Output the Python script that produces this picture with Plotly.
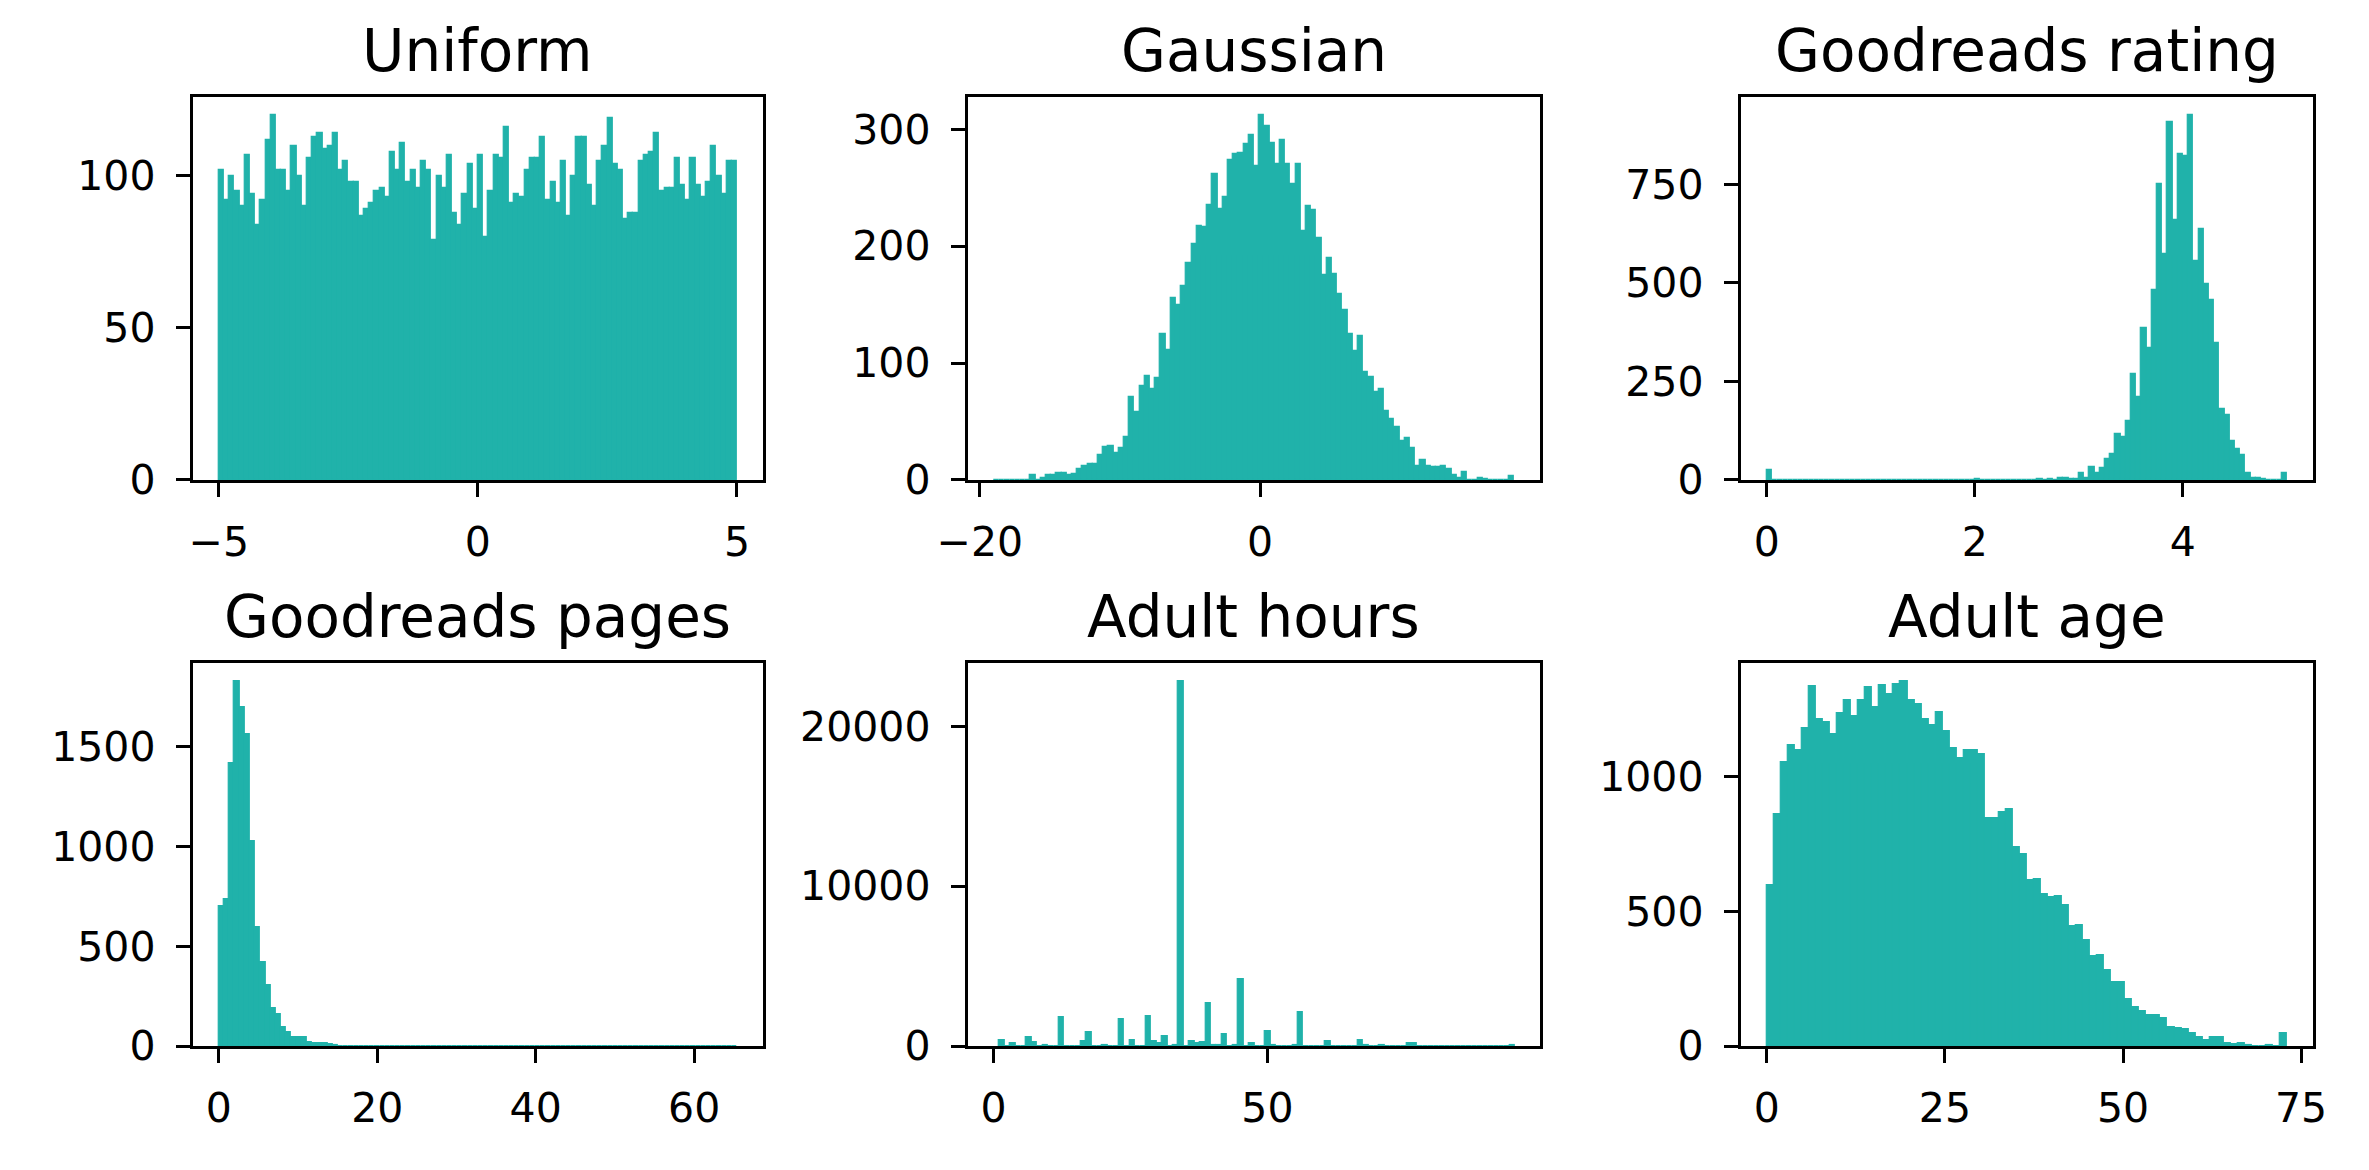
import numpy as np
import plotly.graph_objects as go

# ---- data (bin counts, left to right) ----
uniform_lo, uniform_hi = -5.0, 5.0
uniform_counts = [102, 92, 100, 95, 90, 107, 94, 84, 92, 112, 120, 102, 102, 95, 110, 100, 90, 106, 113, 114,
                  109, 110, 114, 102, 105, 98, 98, 87, 89, 91, 95, 96, 93, 108, 102, 111, 98, 102, 96, 105,
                  102, 79, 100, 96, 107, 88, 84, 94, 104, 89, 107, 80, 95, 107, 106, 116, 91, 94, 93, 102,
                  106, 106, 113, 92, 98, 91, 105, 87, 100, 113, 113, 97, 90, 105, 110, 119, 104, 102, 86, 88,
                  88, 105, 107, 108, 114, 95, 96, 96, 106, 97, 92, 106, 97, 93, 98, 110, 100, 94, 105, 105]

gauss_lo, gauss_hi = -19.0, 18.1
gauss_counts = [0, 0, 0, 0, 0, 0, 0, 4, 0, 2, 4, 4, 6, 6, 4, 5, 9, 12, 14, 14,
                21, 28, 29, 23, 27, 37, 71, 58, 80, 89, 78, 87, 125, 111, 156, 150, 166, 186, 202, 217,
                216, 235, 262, 232, 242, 274, 279, 280, 287, 295, 269, 312, 303, 288, 270, 291, 270, 253, 270, 213,
                234, 231, 207, 175, 190, 176, 159, 145, 125, 110, 123, 92, 88, 75, 78, 59, 52, 45, 33, 36,
                27, 12, 17, 12, 11, 11, 12, 9, 4, 2, 7, 0, 0, 2, 1, 0, 0, 0, 0, 3]

rating_lo, rating_hi = 0.0, 5.0
rating_counts = [25, 0, 0, 0, 0, 0, 0, 0, 0, 0, 0, 0, 0, 0, 0, 0, 0, 0, 0, 0,
                 0, 0, 0, 0, 0, 0, 0, 0, 0, 0, 0, 0, 0, 0, 0, 0, 0, 0, 0, 0,
                 2, 0, 0, 0, 0, 0, 0, 0, 0, 0, 0, 0, 3, 0, 2, 0, 6, 4, 2, 2,
                 18, 6, 33, 18, 31, 53, 66, 116, 108, 151, 268, 211, 386, 336, 483, 751, 573, 908, 661, 828,
                 823, 926, 556, 636, 498, 458, 348, 181, 166, 98, 78, 63, 18, 6, 6, 2, 0, 0, 0, 18]

pages_lo, pages_hi = 0.0, 65.4
pages_counts = [702, 736, 1420, 1828, 1700, 1562, 1026, 598, 421, 308, 190, 161, 97, 72, 43, 43, 43, 18, 13, 13,
                13, 8, 3, 2, 1, 1, 1, 0, 0, 0, 0, 0, 0, 0, 0, 0, 0, 0, 0, 0,
                0, 0, 0, 0, 0, 0, 0, 0, 0, 0, 0, 0, 0, 0, 0, 0, 0, 0, 0, 0,
                0, 0, 0, 0, 0, 0, 0, 0, 0, 0, 0, 0, 0, 0, 0, 0, 0, 0, 0, 0,
                0, 0, 0, 0, 0, 0, 0, 0, 0, 0, 0, 0, 0, 0, 0, 0, 0, 0, 0, 1]

hours_lo, hours_hi = 1.0, 95.24
hours_counts = [350, 0, 185, 0, 0, 550, 245, 0, 60, 0, 0, 1840, 0, 0, 0, 307, 900, 0, 0, 60,
                0, 0, 1656, 0, 350, 0, 0, 1900, 286, 184, 654, 0, 60, 22800, 0, 286, 184, 245, 2680, 60,
                60, 736, 0, 60, 4210, 0, 184, 0, 0, 960, 60, 0, 0, 0, 60, 2127, 0, 0, 0, 0,
                307, 0, 0, 0, 0, 0, 350, 60, 0, 0, 60, 0, 0, 0, 0, 184, 184, 0, 0, 0,
                0, 0, 0, 0, 0, 0, 0, 0, 0, 0, 0, 0, 0, 0, 60]

age_lo, age_hi = 0.0, 73.0
age_counts = [597, 863, 1056, 1118, 1100, 1183, 1337, 1213, 1202, 1158, 1238, 1286, 1227, 1286, 1333, 1260, 1340, 1307, 1344, 1355,
              1286, 1271, 1213, 1191, 1242, 1169, 1107, 1070, 1100, 1100, 1085, 848, 848, 870, 881, 739, 713, 615, 622, 564,
              553, 556, 524, 447, 451, 392, 334, 338, 283, 236, 236, 174, 145, 130, 115, 115, 104, 72, 68, 64,
              50, 32, 24, 35, 32, 10, 6, 10, 4, 1, 1, 4, 1, 50]

titles = ["Uniform", "Gaussian", "Goodreads rating", "Goodreads pages", "Adult hours", "Adult age"]
x_ticks = [[-5, 0, 5], [-20, 0], [0, 2, 4], [0, 20, 40, 60], [0, 50], [0, 25, 50, 75]]
y_ticks = [[0, 50, 100], [0, 100, 200, 300], [0, 250, 500, 750],
           [0, 500, 1000, 1500], [0, 10000, 20000], [0, 500, 1000]]

panels = [
    (uniform_lo, uniform_hi, uniform_counts),
    (gauss_lo, gauss_hi, gauss_counts),
    (rating_lo, rating_hi, rating_counts),
    (pages_lo, pages_hi, pages_counts),
    (hours_lo, hours_hi, hours_counts),
    (age_lo, age_hi, age_counts),
]

# ---- layout ----
W, H = 2369, 1170
col_px = [(165, 746), (955, 1538), (1743, 2326)]
row_px = [(99, 490), (677, 1068)]
x_override = {4: [-4.7, 99.75]}

BAR = "#20b2aa"
FONT = "DejaVu Sans"
LW = 3.3


def fmt(v):
    return str(v).replace("-", "\u2212")


fig = go.Figure()
annotations = []
for i, (lo, hi, counts) in enumerate(panels):
    n = len(counts)
    edges = np.linspace(lo, hi, n + 1)
    centers = (edges[:-1] + edges[1:]) / 2
    width = edges[1] - edges[0]
    ax = "" if i == 0 else str(i + 1)
    fig.add_trace(go.Bar(
        x=centers, y=counts, width=width,
        marker=dict(color=BAR, line=dict(color=BAR, width=1.2)),
        xaxis="x" + ax, yaxis="y" + ax, showlegend=False, hoverinfo="x+y",
    ))

    r, c = divmod(i, 3)
    x0, x1 = col_px[c]
    y0, y1 = row_px[r]
    xdom = [x0 / W, x1 / W]
    ydom = [1 - y1 / H, 1 - y0 / H]
    span = hi - lo
    xr = x_override.get(i, [lo - 0.05 * span, hi + 0.05 * span])
    yr = [0, max(counts) * 1.05]

    common = dict(showline=True, linecolor="black", linewidth=LW, mirror=True,
                  ticks="outside", ticklen=14, tickwidth=LW, tickcolor="black",
                  showgrid=False, zeroline=False,
                  tickfont=dict(family=FONT, size=41, color="black"))
    fig.layout["xaxis" + ax] = dict(domain=xdom, range=xr, anchor="y" + ax,
                                    tickvals=x_ticks[i], ticktext=[fmt(v) for v in x_ticks[i]],
                                    ticklabelstandoff=10, **common)
    fig.layout["yaxis" + ax] = dict(domain=ydom, range=yr, anchor="x" + ax,
                                    tickvals=y_ticks[i], ticktext=[fmt(v) for v in y_ticks[i]],
                                    ticklabelstandoff=12, **common)
    annotations.append(dict(text=titles[i], x=(xdom[0] + xdom[1]) / 2, y=ydom[1],
                            xref="paper", yref="paper", xanchor="center", yanchor="bottom",
                            yshift=10, showarrow=False,
                            font=dict(family=FONT, size=58, color="black")))

fig.update_layout(
    width=W, height=H,
    margin=dict(l=0, r=0, t=0, b=0),
    paper_bgcolor="white", plot_bgcolor="white",
    bargap=0, annotations=annotations,
    font=dict(family=FONT, color="black"),
)

fig.write_html("out.html", config={"displayModeBar": False},
               post_script="document.body.style.margin='0';")
